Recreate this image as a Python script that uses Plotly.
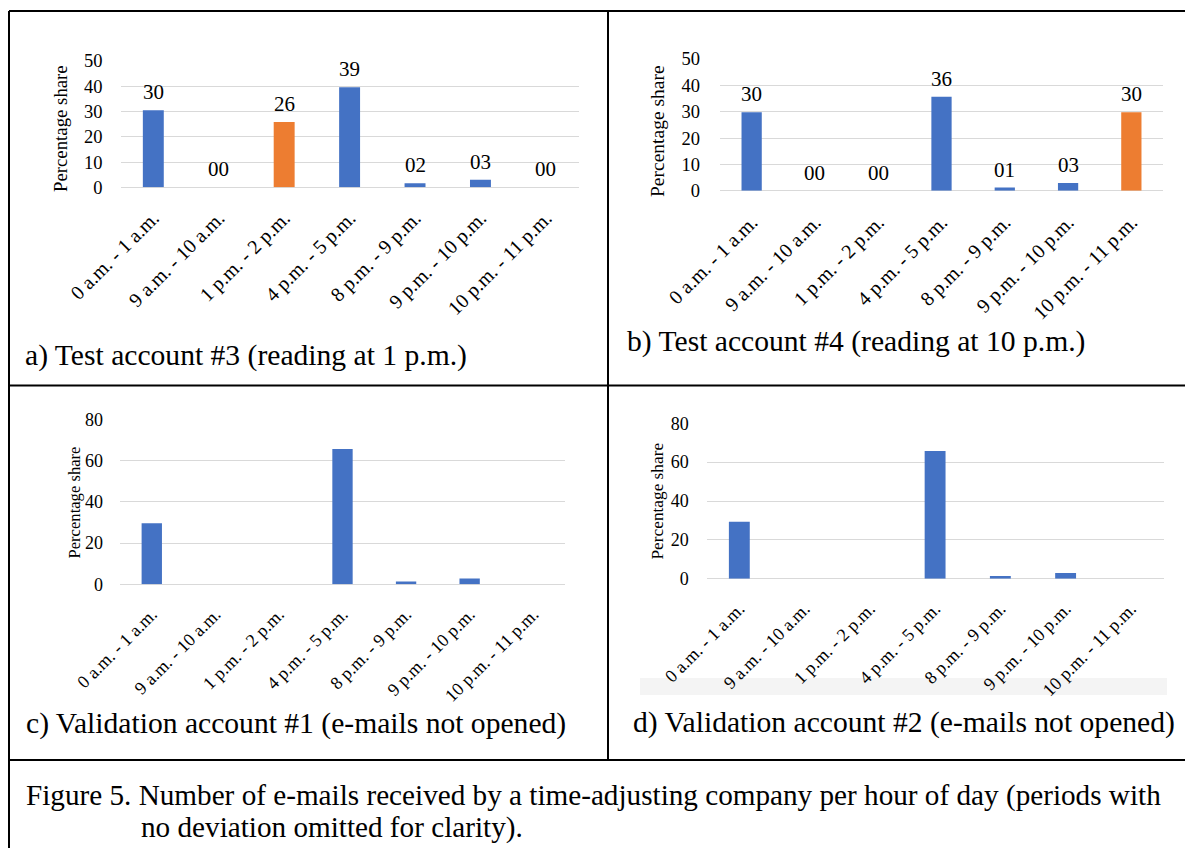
import plotly.graph_objects as go

W, H = 1193, 848
OFF = 8                      # the page body adds an 8px margin
FW, FH = W - OFF, H - OFF    # figure size so it fits the window exactly

# ---------------- data ----------------
categories = ["0 a.m. - 1 a.m.", "9 a.m. - 10 a.m.", "1 p.m. - 2 p.m.", "4 p.m. - 5 p.m.",
              "8 p.m. - 9 p.m.", "9 p.m. - 10 p.m.", "10 p.m. - 11 p.m."]

values_a = [30.5, 0, 25.9, 39.6, 1.6, 3.0, 0]
labels_a = ["30", "00", "26", "39", "02", "03", "00"]
highlight_a = "1 p.m. - 2 p.m."

values_b = [29.8, 0, 0, 35.7, 1.2, 2.9, 29.8]
labels_b = ["30", "00", "00", "36", "01", "03", "30"]
highlight_b = "10 p.m. - 11 p.m."

values_c = [29.6, 0, 0, 65.6, 1.4, 2.8, 0]
values_d = [29.3, 0, 0, 65.7, 1.4, 2.9, 0]

yticks_ab = [0, 10, 20, 30, 40, 50]
yticks_cd = [0, 20, 40, 60, 80]

y_title = "Percentage share"
panel_titles = [
    "a) Test account #3 (reading at 1 p.m.)",
    "b) Test account #4 (reading at 10 p.m.)",
    "c) Validation account #1 (e-mails not opened)",
    "d) Validation account #2 (e-mails not opened)",
]
figure_caption = [
    "Figure 5. Number of e-mails received by a time-adjusting company per hour of day (periods with",
    "no deviation omitted for clarity).",
]

# ---------------- styling ----------------
FONT = "Liberation Serif"
BLUE = "#4472C4"
ORANGE = "#ED7D31"
GRID = "#D9D9D9"


def px_x(p):
    return (p - OFF) / FW


def px_y(p):
    return 1 - (p - OFF) / FH


panels = [
    dict(vals=values_a, labels=labels_a, hi=highlight_a, x=(120.6, 578.6), y=(61, 187.3),
         ticks=yticks_ab, ytf=18.5, xtf=20, ttf=18.8, lf=21, tpos=(60.5, 128.5), tls=17, xls=14,
         cap=(23, 355)),
    dict(vals=values_b, labels=labels_b, hi=highlight_b, x=(720, 1163), y=(59, 190.7),
         ticks=yticks_ab, ytf=18.5, xtf=20, ttf=19.5, lf=21, tpos=(657, 131), tls=19, xls=15,
         cap=(625, 342)),
    dict(vals=values_c, labels=None, hi=None, x=(120, 565), y=(419.3, 584.3),
         ticks=yticks_cd, ytf=18, xtf=18, ttf=16.6, lf=18, tpos=(74, 502.5), tls=16, xls=15,
         cap=(24, 723)),
    dict(vals=values_d, labels=None, hi=None, x=(706.7, 1163.5), y=(423.3, 578.7),
         ticks=yticks_cd, ytf=18, xtf=18, ttf=17.3, lf=18, tpos=(657, 501.5), tls=17, xls=15,
         cap=(631, 722)),
]

fig = go.Figure()
annotations = []
layout_axes = {}

for i, p in enumerate(panels, start=1):
    sfx = "" if i == 1 else str(i)
    colors = [ORANGE if c == p["hi"] else BLUE for c in categories]
    fig.add_trace(go.Bar(
        x=categories, y=p["vals"], marker=dict(color=colors, line=dict(width=0)),
        xaxis="x" + sfx, yaxis="y" + sfx, showlegend=False, hoverinfo="skip",
    ))
    layout_axes["xaxis" + sfx] = dict(
        domain=[px_x(p["x"][0]), px_x(p["x"][1])], anchor="y" + sfx, type="category",
        tickangle=-45, tickfont=dict(family=FONT, size=p["xtf"], color="black"),
        showgrid=False, zeroline=False, showline=False, ticks="",
        ticklabelstandoff=int(p["xls"]), automargin=False,
    )
    layout_axes["yaxis" + sfx] = dict(
        domain=[px_y(p["y"][1]), px_y(p["y"][0])], anchor="x" + sfx,
        range=[0, p["ticks"][-1]], tickvals=p["ticks"],
        tickfont=dict(family=FONT, size=p["ytf"], color="black"),
        showgrid=True, gridcolor=GRID, gridwidth=1.4,
        zeroline=True, zerolinecolor=GRID, zerolinewidth=1.4,
        showline=False, ticks="", ticklabelstandoff=int(p["tls"]), automargin=False,
    )
    # y-axis title
    annotations.append(dict(
        x=px_x(p["tpos"][0]), y=px_y(p["tpos"][1]), xref="paper", yref="paper",
        text=y_title, textangle=-90, showarrow=False, xanchor="center", yanchor="middle",
        font=dict(family=FONT, size=p["ttf"], color="black"),
    ))
    if p["labels"]:
        for c, v, t in zip(categories, p["vals"], p["labels"]):
            annotations.append(dict(
                x=c, y=v, xref="x" + sfx, yref="y" + sfx, text=t, showarrow=False,
                yanchor="middle", xanchor="center", yshift=18,
                font=dict(family=FONT, size=p["lf"], color="black"),
            ))
    annotations.append(dict(
        x=px_x(p["cap"][0]), y=px_y(p["cap"][1]), xref="paper", yref="paper",
        text=panel_titles[i - 1], showarrow=False, xanchor="left", yanchor="middle",
        font=dict(family=FONT, size=29.6, color="black"),
    ))

# figure caption (two lines)
annotations.append(dict(
    x=px_x(24), y=px_y(795), xref="paper", yref="paper", text=figure_caption[0],
    showarrow=False, xanchor="left", yanchor="middle",
    font=dict(family=FONT, size=29.2, color="black"),
))
annotations.append(dict(
    x=px_x(139), y=px_y(827), xref="paper", yref="paper", text=figure_caption[1],
    showarrow=False, xanchor="left", yanchor="middle",
    font=dict(family=FONT, size=29.2, color="black"),
))

# table borders
line = dict(color="black", width=2)
shapes = [
    dict(type="rect", xref="paper", yref="paper", x0=px_x(640), x1=px_x(1167),
         y0=px_y(695), y1=px_y(678), fillcolor="#F4F4F4", line=dict(width=0), layer="below"),
    dict(type="line", xref="paper", yref="paper", x0=px_x(9), x1=1, y0=px_y(11), y1=px_y(11), line=line),
    dict(type="line", xref="paper", yref="paper", x0=px_x(9), x1=px_x(9), y0=px_y(11), y1=0, line=line),
    dict(type="line", xref="paper", yref="paper", x0=px_x(608), x1=px_x(608), y0=px_y(11), y1=px_y(760), line=line),
    dict(type="line", xref="paper", yref="paper", x0=px_x(9), x1=1, y0=px_y(385.5), y1=px_y(385.5), line=line),
    dict(type="line", xref="paper", yref="paper", x0=px_x(9), x1=1, y0=px_y(760), y1=px_y(760), line=line),
]

fig.update_layout(
    width=FW, height=FH, autosize=False,
    margin=dict(l=0, r=0, t=0, b=0, pad=0, autoexpand=False),
    paper_bgcolor="white", plot_bgcolor="white",
    bargap=0.68, showlegend=False,
    font=dict(family=FONT, color="black"),
    annotations=annotations, shapes=shapes,
    **layout_axes,
)

fig.write_html("out.html")
